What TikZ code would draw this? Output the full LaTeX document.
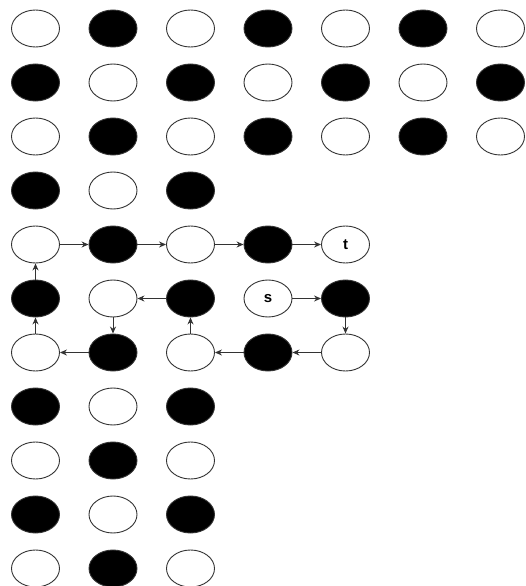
\documentclass[tikz,border=0pt]{standalone}
\usepackage{fontspec}
\setmainfont{Liberation Sans}
\usetikzlibrary{arrows.meta, shapes.geometric}

\begin{document}
\begin{tikzpicture}[x=1pt, y=-1pt, >={Stealth[length=7pt, width=6pt]},
    dot/.style={ellipse, draw=black!80, line width=0.9pt, inner sep=0pt, minimum width=48pt, minimum height=37pt, font=\fontsize{15}{17}\selectfont\bfseries},
    dot0/.style={dot, fill=white},
    dot1/.style={dot, fill=black},
    every path/.style={line width=0.9pt}]
  \useasboundingbox (0,0) rectangle (526,586);
  % grid of cells, filled black where row+col is odd
  \foreach \r/\last in {0/6, 1/6, 2/6, 3/2, 4/3, 5/2, 6/4, 7/2, 8/2, 9/2, 10/2}
    \foreach \c in {0,...,\last} {
      \pgfmathtruncatemacro\k{mod(\r+\c,2)}
      \node[dot\k] (v\r\c) at ({35.5+77.5*\c}, {28.5+54*\r}) {};
    }
  \node[dot0] (v44) at ({35.5+77.5*4}, {28.5+54*4}) {t};
  \node[dot0] (v53) at ({35.5+77.5*3}, {28.5+54*5}) {s};
  \node[dot1] (v54) at ({35.5+77.5*4}, {28.5+54*5}) {};
  % path from s to t
  \foreach \a/\b in {v53/v54, v54/v64, v64/v63, v63/v62, v62/v52, v52/v51, v51/v61, v61/v60,
      v60/v50, v50/v40, v40/v41, v41/v42, v42/v43, v43/v44}
    \draw[->, black!80] (\a) -- (\b);
\end{tikzpicture}
\end{document}
